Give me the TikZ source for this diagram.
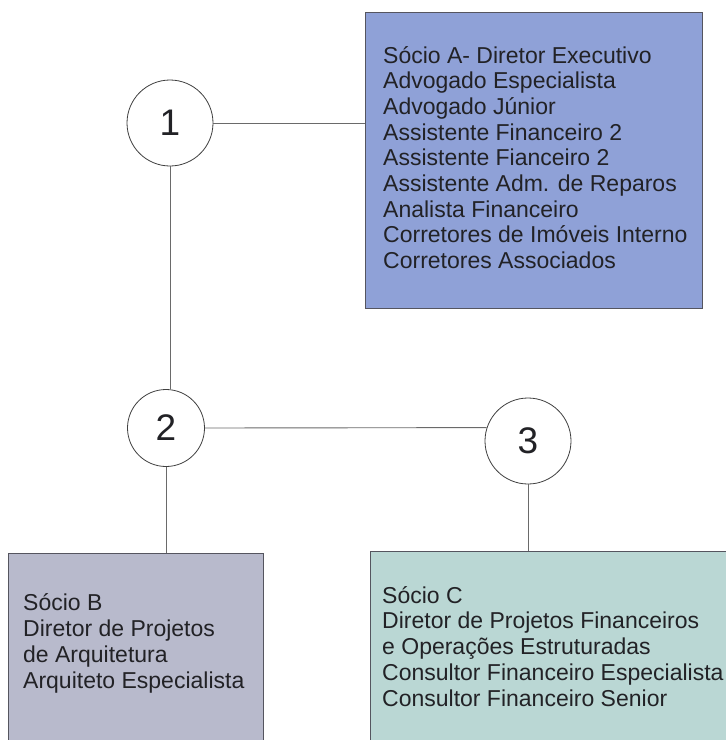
\documentclass[tikz,border=0pt]{standalone}
\usepackage{fontspec}
\setmainfont{Liberation Sans}
\definecolor{fillA}{HTML}{8FA1D7}
\definecolor{fillB}{HTML}{B8BACC}
\definecolor{fillC}{HTML}{BAD7D4}
\definecolor{linecol}{HTML}{6A6A6A}
\definecolor{bordercol}{HTML}{55555F}
\definecolor{textcol}{HTML}{222226}
\begin{document}
\begin{tikzpicture}[x=1pt,y=-1pt,
  box/.style={draw=bordercol, line width=1.1pt, rectangle, inner sep=0pt, anchor=north west},
  circ/.style={draw=black!75, line width=0.8pt, circle, inner sep=0pt, text=textcol, font=\fontsize{37}{37}\selectfont},
  txt/.style={align=left, inner sep=0pt, anchor=base west, text=textcol, font=\fontsize{23}{25.7}\selectfont},
  conn/.style={draw=linecol, line width=0.9pt}]
\useasboundingbox (0,0) rectangle (726,740);
\fill[white] (0,0) rectangle (726,740);
% boxes
\node[box, fill=fillA, minimum width=337pt, minimum height=296pt] (boxA) at (365,12) {};
\node[box, fill=fillB, minimum width=255pt, minimum height=200pt] (boxB) at (8,553) {};
\node[box, fill=fillC, minimum width=400pt, minimum height=200pt] (boxC) at (370,551) {};
% circles
\node[circ, minimum size=86pt] (c1) at (170,123) {1};
\node[circ, minimum size=77pt] (c2) at (166,428) {2};
\node[circ, minimum size=86pt] (c3) at (528,441) {3};
% connectors
\draw[conn] (c1.east) -- (c1.east -| boxA.west);
\draw[conn] (c1.south) -- (c1.south |- c2.north);
\draw[conn] (c2.east) -- (c3.162);
\draw[conn] (c2.south) -- (c2.south |- boxB.north);
\draw[conn] (c3.south) -- (c3.south |- boxC.north);
% texts (base anchor = last line baseline)
\node[txt] (tA) at (383,268.6) {Sócio A- Diretor Executivo\\Advogado Especialista\\Advogado Júnior\\Assistente Financeiro 2\\Assistente Fianceiro 2\\Assistente Adm. de Reparos\\Analista Financeiro\\Corretores de Imóveis Interno\\Corretores Associados};
\node[txt] (tB) at (23,688) {Sócio B\\Diretor de Projetos\\de Arquitetura\\Arquiteto Especialista};
\node[txt] (tC) at (382,706) {Sócio C\\Diretor de Projetos Financeiros\\e Operações Estruturadas\\Consultor Financeiro Especialista\\Consultor Financeiro Senior};
\end{tikzpicture}
\end{document}
